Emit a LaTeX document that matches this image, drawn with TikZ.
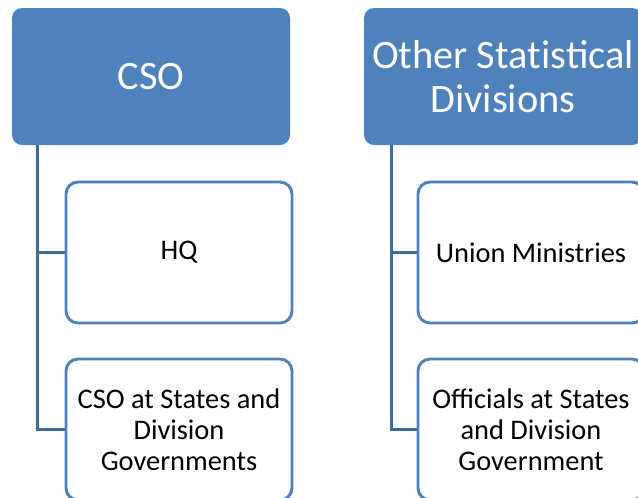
\documentclass[tikz,border=0pt]{standalone}
\usepackage{fontspec}
\setmainfont{Carlito}
\usetikzlibrary{positioning}
\definecolor{hdblue}{HTML}{4F81BD}
\definecolor{lnblue}{HTML}{41699A}
\newcommand\nolig{\kern0pt}

\tikzset{
  head/.style={fill=hdblue,draw=none,rounded corners=7.5pt,text=white,
    minimum width=208.5pt,minimum height=102.75pt,align=center,
    font=\fontsize{30.3pt}{33pt}\selectfont},
  child/.style={fill=white,draw=hdblue,line width=2.2pt,rounded corners=9pt,
    minimum width=169.5pt,minimum height=105.75pt,align=center,
    font=\fontsize{21.3pt}{23.4pt}\selectfont},
  link/.style={draw=lnblue,line width=2.3pt}
}

\begin{document}
\begin{tikzpicture}[x=0.75pt,y=-0.75pt]
\clip (0,0) rectangle (638,497);
\fill[white] (0,0) rectangle (638,497);

% headers
\node[head] (cso) at (151,76.5) {CSO};
\node[head] (osd) at (503,76.5) {Other Stat\nolig is\nolig tical\\Divisions};

% children
\node[child] (hq) at (179,252.5) {HQ};
\node[child] (csost) at (179,429.5) {CSO at States and\\Division\\Governments};
\node[child] (union) at (531,252.5) {Union Ministries};
\node[child] (offst) at (531,429.5) {Officials at States\\and Division\\Government};

% connectors
\draw[link] (cso.south west) ++(26,0) coordinate (ca) -- (ca |- csost.west) -- (csost.west);
\draw[link] (ca |- hq.west) -- (hq.west);
\draw[link] (osd.south west) ++(28,0) coordinate (oa) -- (oa |- offst.west) -- (offst.west);
\draw[link] (oa |- union.west) -- (union.west);
\end{tikzpicture}
\end{document}
